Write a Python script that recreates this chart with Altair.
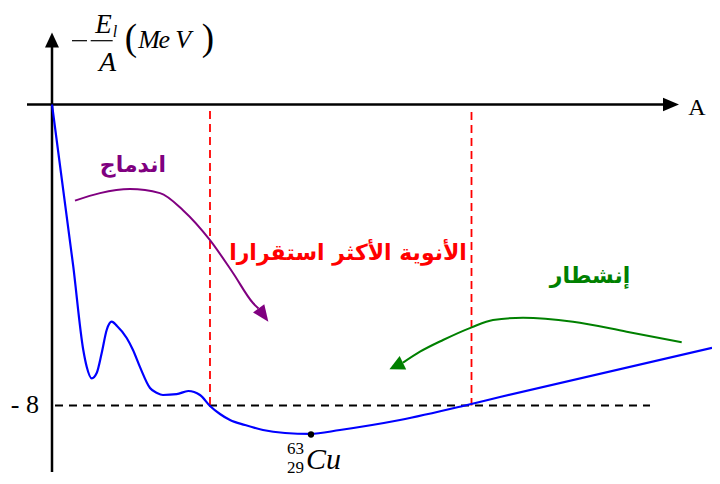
import altair as alt
import pandas as pd

# ---- data (A : mass number, E : -E_l/A in MeV) ----
curve_A = [0, 5.18, 7.61, 8.44, 9.66, 10.87, 12.09, 13.30, 14.52, 15.81, 18.17, 19.70,
           21.41, 23.84, 25.54, 27.00, 30.33, 33.15, 36.00, 38.43, 40.86, 43.30, 46.95,
           51.32, 56.68, 62.76, 70.05, 84.65, 99.97, 108.97, 160.54]
curve_E = [0, -4.31, -6.525, -6.969, -7.277, -7.136, -6.605, -5.993, -5.773, -5.887,
           -6.206, -6.525, -6.98, -7.535, -7.668, -7.721, -7.700, -7.615, -7.721, -8.013,
           -8.226, -8.386, -8.519, -8.651, -8.731, -8.757, -8.651, -8.386, -8.013, -7.774,
           -6.466]

fusion_A = [5.59, 11.68, 18.97, 26.27, 31.86, 38.43, 44.03, 48.89, 50.23]
fusion_E = [-2.556, -2.355, -2.249, -2.355, -2.808, -3.605, -4.478, -5.276, -5.422]

fission_A = [85.38, 89.51, 95.11, 102.09, 107.27, 114.57, 126.73, 139.79, 153.17]
fission_E = [-6.862, -6.570, -6.259, -5.922, -5.728, -5.667, -5.773, -6.039, -6.320]

stable_bounds = [38.43, 102.04]
ref_level = -8
cu_A = 63
cu_E = -8.77

XS = alt.Scale(domain=[-10.703, 160.54], nice=False, zero=False)
YS = alt.Scale(domain=[-9.874, 2.565], nice=False, zero=False)


def X(f="x"):
    return alt.X(f"{f}:Q", scale=XS, axis=None)


def Y(f="y"):
    return alt.Y(f"{f}:Q", scale=YS, axis=None)


def line(xs, ys, **kw):
    df = pd.DataFrame({"x": xs, "y": ys})
    return alt.Chart(df).mark_line(**kw).encode(x=X(), y=Y())


def hrule(x1, x2, y, **kw):
    df = pd.DataFrame({"x": [x1], "x2": [x2], "y": [y]})
    return alt.Chart(df).mark_rule(**kw).encode(x=X(), x2="x2:Q", y=Y())


def vrule(x, y1, y2, **kw):
    df = pd.DataFrame({"x": [x], "y": [y1], "y2": [y2]})
    return alt.Chart(df).mark_rule(**kw).encode(x=X(), y=Y(), y2="y2:Q")


def label(x, y, s, **kw):
    df = pd.DataFrame({"x": [x], "y": [y], "t": [s]})
    return alt.Chart(df).mark_text(**kw).encode(x=X(), y=Y(), text="t:N")


def head(x, y, shape, size, angle, color):
    df = pd.DataFrame({"x": [x], "y": [y]})
    return alt.Chart(df).mark_point(shape=shape, size=size, angle=angle, filled=True,
                                    color=color, opacity=1, strokeWidth=0).encode(x=X(), y=Y())


SERIF = "Liberation Serif"
ARAB = "DejaVu Sans"
TRI_R = "M1,0L-1,-0.84L-1,0.84Z"
TRI_R2 = "M1,0L-1,-1L-1,1Z"

layers = [
    # axes
    vrule(0, 1.528, -9.767, color="black", strokeWidth=2.5),
    hrule(-6.08, 150.3, 0, color="black", strokeWidth=2.5),
    head(0, 1.714, "M0,-1L-0.93,1L0.93,1Z", 225, 0, "black"),
    head(150.57, 0, TRI_R, 256, 0, "black"),
    # reference lines
    hrule(0.73, 145.46, ref_level, color="black", strokeWidth=1.8, strokeDash=[8, 6]),
    vrule(stable_bounds[0], -0.173, ref_level, color="#ff0000", strokeWidth=1.8, strokeDash=[8, 5]),
    vrule(stable_bounds[1], -0.2, ref_level, color="#ff0000", strokeWidth=1.8, strokeDash=[8, 5]),
    # curve
    line(curve_A, curve_E, color="#0000ff", strokeWidth=2.2, interpolate="monotone"),
    # arrows
    line(fusion_A, fusion_E, color="#800080", strokeWidth=2, interpolate="monotone"),
    head(51.45, -5.595, TRI_R, 272, 54, "#800080"),
    line(fission_A, fission_E, color="#008000", strokeWidth=2, interpolate="monotone"),
    head(83.72, -6.95, TRI_R2, 225, 154, "#008000"),
    # Cu point
    alt.Chart(pd.DataFrame({"x": [cu_A], "y": [cu_E]})).mark_circle(
        size=40, color="black", opacity=1).encode(x=X(), y=Y()),
    # y-axis title
    hrule(4.865, 8.51, 1.696, color="black", strokeWidth=1.2),
    hrule(9.41, 14.76, 1.696, color="black", strokeWidth=1.2),
    label(12.53, 1.90, "E", font=SERIF, fontSize=27, fontStyle="italic", align="center", baseline="alphabetic", color="black"),
    label(15.32, 1.794, "l", font=SERIF, fontSize=16, fontStyle="italic", align="center", baseline="alphabetic", color="black"),
    label(13.50, 0.890, "A", font=SERIF, fontSize=28, fontStyle="italic", align="center", baseline="alphabetic", color="black"),
    label(19.22, 1.449, "(", font=SERIF, fontSize=37, align="center", baseline="alphabetic", color="black"),
    label(23.59, 1.494, "M", font=SERIF, fontSize=26, fontStyle="italic", align="center", baseline="alphabetic", color="black"),
    label(27.3, 1.494, "e", font=SERIF, fontSize=26, fontStyle="italic", align="center", baseline="alphabetic", color="black"),
    label(31.9, 1.494, "V", font=SERIF, fontSize=26, fontStyle="italic", align="center", baseline="alphabetic", color="black"),
    label(37.95, 1.449, ")", font=SERIF, fontSize=37, align="center", baseline="alphabetic", color="black"),
    # x-axis title
    label(156.89, -0.279, "A", font=SERIF, fontSize=24, align="center", baseline="alphabetic", color="black"),
    # -8 tick
    label(-3.16, -8.199, "- 8", font=SERIF, fontSize=26, align="right", baseline="alphabetic", color="black"),
    # Cu label
    label(61.78, -9.687, "Cu", font=SERIF, fontSize=30, fontStyle="italic", align="left", baseline="alphabetic", color="black"),
    label(61.30, -9.289, "63", font=SERIF, fontSize=17, align="right", baseline="alphabetic", color="black"),
    label(61.30, -9.794, "29", font=SERIF, fontSize=17, align="right", baseline="alphabetic", color="black"),
    # Arabic labels
    label(19.70, -1.794, "اندماج", font=ARAB, fontSize=22, fontWeight="bold", align="center", baseline="alphabetic", color="#800080"),
    label(72.0, -4.133, "الأنوية الأكثر استقرارا", font=ARAB, fontSize=22, fontWeight="bold", align="center", baseline="alphabetic", color="#ff0000"),
    label(130.87, -4.744, "إنشطار", font=ARAB, fontSize=22, fontWeight="bold", align="center", baseline="alphabetic", color="#008000"),
]

chart = alt.layer(*layers).properties(
    width=704, height=468, padding=0, autosize="none", background="white"
).configure_view(stroke=None)

chart.save("out.html", embed_options={"renderer": "svg", "actions": False})
